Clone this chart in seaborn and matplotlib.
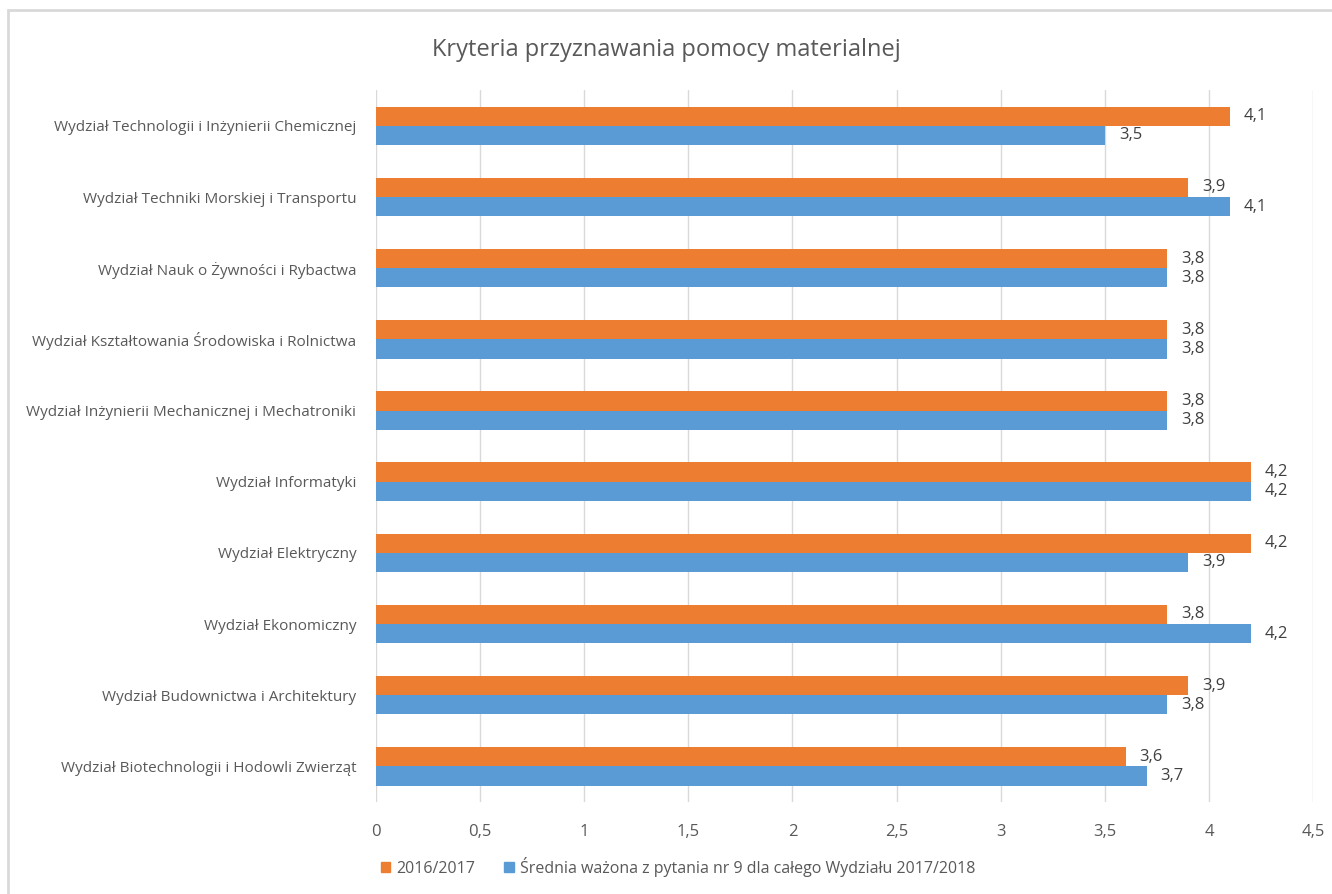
import pandas as pd
import seaborn as sns
import matplotlib.pyplot as plt
from matplotlib.patches import Rectangle

# --- Data ---
wydzialy = [
    "Wydział Technologii i Inżynierii Chemicznej",
    "Wydział Techniki Morskiej i Transportu",
    "Wydział Nauk o Żywności i Rybactwa",
    "Wydział Kształtowania Środowiska i Rolnictwa",
    "Wydział Inżynierii Mechanicznej i Mechatroniki",
    "Wydział Informatyki",
    "Wydział Elektryczny",
    "Wydział Ekonomiczny",
    "Wydział Budownictwa i Architektury",
    "Wydział Biotechnologii i Hodowli Zwierząt",
]
rok_2016 = [4.1, 3.9, 3.8, 3.8, 3.8, 4.2, 4.2, 3.8, 3.9, 3.6]
rok_2017 = [3.5, 4.1, 3.8, 3.8, 3.8, 4.2, 3.9, 4.2, 3.8, 3.7]
seria = ["2016/2017", "Średnia ważona z pytania nr 9 dla całego Wydziału 2017/2018"]
x_ticks = [0, 0.5, 1, 1.5, 2, 2.5, 3, 3.5, 4, 4.5]

df = pd.DataFrame({
    "wydzial": wydzialy * 2,
    "wartosc": rok_2016 + rok_2017,
    "seria": [seria[0]] * len(wydzialy) + [seria[1]] * len(wydzialy),
})

sns.set_theme(style="white")
plt.rcParams["font.family"] = ["Open Sans", "DejaVu Sans"]

fig = plt.figure(figsize=(13.32, 8.94), dpi=100)
ax = fig.add_axes([0.282, 0.103, 0.704, 0.796])

sns.barplot(data=df, y="wydzial", x="wartosc", hue="seria", hue_order=seria,
            order=wydzialy, orient="h", palette=["#ED7D31", "#5B9BD5"],
            width=0.54, saturation=1, linewidth=0, ax=ax, legend=False)

for cont in ax.containers:
    labels = [f"{b.get_width():.1f}".replace(".", ",") for b in cont]
    ax.bar_label(cont, labels=labels, padding=10, fontsize=12, color="#404040")

ax.set_xlim(0, 4.5)
ax.set_xticks(x_ticks)
ax.set_xticklabels([str(t).replace(".", ",") for t in x_ticks])
ax.grid(axis="x", color="#D9D9D9", linewidth=1)
ax.set_axisbelow(True)
for s in ax.spines.values():
    s.set_visible(False)
ax.tick_params(axis="both", length=0, labelsize=12, labelcolor="#595959")
ax.tick_params(axis="y", pad=14, labelsize=11)
ax.tick_params(axis="x", pad=16)
ax.set_xlabel("")
ax.set_ylabel("")

fig.suptitle("Kryteria przyznawania pomocy materialnej", x=0.5, y=0.957,
             fontsize=17, color="#595959")

handles = [Rectangle((0, 0), 1, 1, color=c) for c in ["#ED7D31", "#5B9BD5"]]
fig.legend(handles, seria, loc="lower left", bbox_to_anchor=(0.275, 0.003),
           ncol=2, frameon=False, fontsize=11.5, labelcolor="#595959",
           handlelength=0.6, handleheight=0.6, handletextpad=0.4, columnspacing=1.8)

fig.add_artist(Rectangle((0.006, -0.01), 1.0, 0.999, transform=fig.transFigure,
                         fill=False, edgecolor="#D9D9D9", linewidth=2))

fig.savefig("out.png", dpi=100)
